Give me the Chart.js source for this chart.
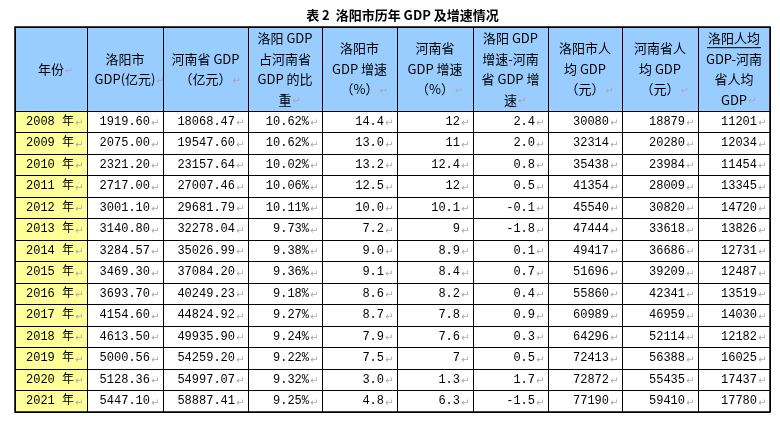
<!DOCTYPE html>
<html><head><meta charset="utf-8">
<script src="https://cdn.jsdelivr.net/npm/chart.js@4/dist/chart.umd.min.js"></script>
<style>body{margin:0;background:#fff}#wrap{width:780px;height:423px}</style>
</head><body><div id="wrap"><canvas id="c"></canvas></div>
<script>
var title = "表 2  洛阳市历年 GDP 及增速情况";
var headers = [
  ["年份"],
  ["洛阳市", "GDP(亿元)"],
  ["河南省 GDP", "（亿元）"],
  ["洛阳 GDP", "占河南省", "GDP 的比", "重"],
  ["洛阳市", "GDP 增速", "（%）"],
  ["河南省", "GDP 增速", "（%）"],
  ["洛阳 GDP", "增速-河南", "省 GDP 增", "速"],
  ["洛阳市人", "均 GDP", "（元）"],
  ["河南省人", "均 GDP", "（元）"],
  ["洛阳人均", "GDP-河南", "省人均", "GDP"]
];
var years = ["2008 年","2009 年","2010 年","2011 年","2012 年","2013 年","2014 年","2015 年","2016 年","2017 年","2018 年","2019 年","2020 年","2021 年"];
var lyGdp = ["1919.60","2075.00","2321.20","2717.00","3001.10","3140.80","3284.57","3469.30","3693.70","4154.60","4613.50","5000.56","5128.36","5447.10"];
var hnGdp = ["18068.47","19547.60","23157.64","27007.46","29681.79","32278.04","35026.99","37084.20","40249.23","44824.92","49935.90","54259.20","54997.07","58887.41"];
var share = ["10.62%","10.62%","10.02%","10.06%","10.11%","9.73%","9.38%","9.36%","9.18%","9.27%","9.24%","9.22%","9.32%","9.25%"];
var lyGrowth = ["14.4","13.0","13.2","12.5","10.0","7.2","9.0","9.1","8.6","8.7","7.9","7.5","3.0","4.8"];
var hnGrowth = ["12","11","12.4","12","10.1","9","8.9","8.4","8.2","7.8","7.6","7","1.3","6.3"];
var diffGrowth = ["2.4","2.0","0.8","0.5","-0.1","-1.8","0.1","0.7","0.4","0.9","0.3","0.5","1.7","-1.5"];
var lyPer = ["30080","32314","35438","41354","45540","47444","49417","51696","55860","60989","64296","72413","72872","77190"];
var hnPer = ["18879","20280","23984","28009","30820","33618","36686","39209","42341","46959","52114","56388","55435","59410"];
var diffPer = ["11201","12034","11454","13345","14720","13826","12731","12487","13519","14030","12182","16025","17437","17780"];

var columns = [years, lyGdp, hnGdp, share, lyGrowth, hnGrowth, diffGrowth, lyPer, hnPer, diffPer];
var colEdges = [0, 72, 148, 233, 307, 382, 458, 533, 607, 683, 755];
var headUnits = 3.9;

// cell centres as points
var pts = [];
for (var c = 0; c < 10; c++) {
  var cx = (colEdges[c] + colEdges[c + 1]) / 2;
  pts.push({x: cx, y: headUnits / 2, c: c, r: -1});
  for (var r = 0; r < years.length; r++) pts.push({x: cx, y: headUnits + r + 0.5, c: c, r: r});
}
var yMax = headUnits + years.length;

var tablePlugin = {
  id: "table",
  beforeDatasetsDraw: function(chart) {
    var ctx = chart.ctx, xs = chart.scales.x, ys = chart.scales.y;
    var top = ys.getPixelForValue(0), hb = ys.getPixelForValue(headUnits), bot = ys.getPixelForValue(yMax);
    var L = xs.getPixelForValue(0), R = xs.getPixelForValue(colEdges[10]);
    ctx.save();
    ctx.fillStyle = "#99ccff";
    ctx.fillRect(L, top, R - L, hb - top);
    ctx.fillStyle = "#ffff99";
    ctx.fillRect(L, hb, xs.getPixelForValue(colEdges[1]) - L, bot - hb);
    ctx.strokeStyle = "#000"; ctx.lineWidth = 1;
    ctx.beginPath();
    colEdges.forEach(function(e) { var x = Math.round(xs.getPixelForValue(e)) + 0.5; ctx.moveTo(x, top); ctx.lineTo(x, bot); });
    for (var i = 0; i <= years.length; i++) {
      var y = Math.round(ys.getPixelForValue(headUnits + i)) + 0.5; ctx.moveTo(L, y); ctx.lineTo(R, y);
    }
    var t = Math.round(top) + 0.5; ctx.moveTo(L, t); ctx.lineTo(R, t);
    ctx.stroke();
    ctx.lineWidth = 1.5; ctx.strokeRect(L, top, R - L, bot - top);
    ctx.fillStyle = "#000"; ctx.font = "bold 13px 'Noto Sans CJK SC'"; ctx.textAlign = "center"; ctx.textBaseline = "middle";
    ctx.fillText(title, (L + R) / 2 + 10, top - 12);
    ctx.restore();
  },
  afterDatasetsDraw: function(chart) {
    var ctx = chart.ctx, meta = chart.getDatasetMeta(0);
    ctx.save();
    ctx.textBaseline = "middle";
    meta.data.forEach(function(el, i) {
      var p = pts[i];
      if (p.r < 0) {
        var lines = headers[p.c], lh = 20.5, y0 = el.y - (lines.length - 1) * lh / 2;
        ctx.font = "13px 'Noto Sans CJK SC'"; ctx.textAlign = "center";
        lines.forEach(function(s, k) {
          ctx.fillStyle = "#000"; ctx.fillText(s, el.x, y0 + k * lh);
          if (k == lines.length - 1) { var w = ctx.measureText(s).width; ctx.fillStyle = "#aaa"; ctx.font = "10px 'DejaVu Sans'"; ctx.fillText("↵", el.x + w / 2 + 5, y0 + k * lh + 2); ctx.font = "13px 'Noto Sans CJK SC'"; }
        });
        if (p.c == 9) { ctx.fillStyle = "#000"; ctx.fillRect(el.x - 27, y0 + 9, 54, 1); }
      } else {
        var s = columns[p.c][p.r];
        var rx = chart.scales.x.getPixelForValue(colEdges[p.c + 1]) - 13;
        ctx.font = "12px 'Liberation Mono', 'Noto Sans CJK SC'"; ctx.textAlign = "right"; ctx.fillStyle = "#000";
        ctx.fillText(s, rx, el.y);
        ctx.fillStyle = "#aaa"; ctx.font = "10px 'DejaVu Sans'"; ctx.textAlign = "left";
        ctx.fillText("↵", rx + 1, el.y + 2);
      }
    });
    ctx.restore();
  }
};

new Chart(document.getElementById("c"), {
  type: "scatter",
  data: { datasets: [{ data: pts, pointRadius: 0, pointHoverRadius: 0 }] },
  options: {
    responsive: true, maintainAspectRatio: false, animation: false,
    layout: { padding: { left: 15, right: 10, top: 27, bottom: 11 } },
    plugins: { legend: { display: false }, tooltip: { enabled: false } },
    scales: {
      x: { type: "linear", min: 0, max: colEdges[10], display: false },
      y: { type: "linear", min: 0, max: yMax, reverse: true, display: false }
    }
  },
  plugins: [tablePlugin]
});
</script></body></html>
